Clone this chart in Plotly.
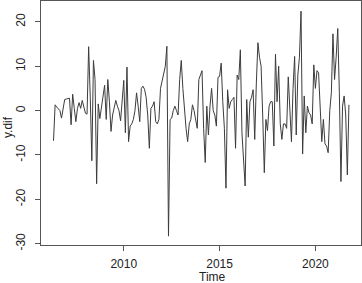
import numpy as np
import plotly.graph_objects as go

start_year = 2006
start_month = 5  # May 2006, monthly series
y_dif = [
    -6.8, 1.3, 0.8, 0.3, 0.0, -1.7, 0.5, 2.5, 2.6, 2.7,
    2.8, -3.2, 3.7, 0.5, -2.5, 0.5, 1.8, 0.5, 2.3, 0.8,
    -0.6, -0.8, 14.4, 3.0, -11.3, 11.3, 7.0, -16.5, 1.5, -1.8,
    1.0, 3.0, 5.7, -2.0, 7.0, 2.0, -4.7, -1.0, 0.5, 2.3,
    1.0, 0.0, -2.3, 3.0, 6.8, -5.0, 9.8, -7.0, -3.5, -3.0,
    -2.0, 0.0, 4.0, 1.0, -2.5, 5.0, 5.5, 4.8, 3.0, -1.0,
    -8.5, 0.5, 1.0, 2.0, -2.5, -3.0, -2.0, 5.0, 6.5, 8.0,
    10.0, 14.5, -28.3, -2.0, -1.7, 0.0, 1.0, 0.0, -1.0, 7.0,
    11.3, 5.0, 0.0, -4.0, -7.0, -3.0, -2.0, 1.3, 0.0, -2.0,
    -4.0, 7.0, 8.0, 9.0, -4.0, -11.7, 1.0, -5.5, 1.0, 5.0,
    0.0, -1.0, -3.5, 7.5, 7.7, 10.7, 2.0, -4.0, -17.5, 4.7,
    0.5, 2.0, 2.5, 3.0, -8.5, 8.0, 7.0, 13.7, -5.0, -10.0,
    -17.0, 2.5, -6.0, 2.0, 3.0, 4.7, -6.5, 6.0, 15.3, 12.0,
    10.0, -1.0, -14.0, -2.0, -4.5, 1.0, 2.0, 2.0, -8.0, 12.7,
    2.0, 10.0, -3.0, -6.5, -3.0, -3.0, -4.0, 7.6, -1.0, -7.0,
    5.0, 12.2, -5.5, 8.0, 12.0, 22.4, -9.8, 3.3, -5.0, 1.0,
    -0.5, -1.0, -3.0, 10.3, 5.0, 9.0, 8.5, 2.0, -7.0, -2.0,
    -7.5, -8.0, -9.5, 0.0, 4.0, 17.3, 7.0, 12.0, 18.5, 4.0,
    -16.0, 1.0, 3.3, -1.0, -14.5, 1.3,
]
x_ticks = [2010, 2015, 2020]
y_ticks = [-30, -20, -10, 0, 10, 20]
x_title = "Time"
y_title = "y.dif"

t = start_year + (start_month - 1) / 12 + np.arange(len(y_dif)) / 12

font = "Liberation Sans, Arial, sans-serif"
frame = "#555555"

fig = go.Figure(go.Scatter(x=t, y=y_dif, mode="lines",
                           line=dict(color="#3c3c3c", width=1)))

fig.update_layout(
    width=362, height=283,
    margin=dict(l=41, r=1, t=1, b=38, autoexpand=False),
    paper_bgcolor="white", plot_bgcolor="white",
    showlegend=False,
    font=dict(family=font, size=12, color="#222222"),
    annotations=[
        dict(text=x_title, xref="paper", yref="paper", x=(212 - 41) / 320, y=0,
             yshift=-32, xanchor="center", yanchor="middle", showarrow=False,
             font=dict(size=12)),
        dict(text=y_title, xref="paper", yref="paper", x=0, y=1 - (127.5 - 1) / 244,
             xshift=-33.5, xanchor="center", yanchor="middle", textangle=-90,
             showarrow=False, font=dict(size=12)),
    ],
)
fig.update_xaxes(
    range=[2005.68, 2022.38], tickvals=x_ticks, ticktext=[str(v) for v in x_ticks],
    showgrid=False, zeroline=False,
    showline=True, mirror=True, linecolor=frame, linewidth=1,
    ticks="outside", ticklen=5, tickcolor=frame, tickwidth=1,
    ticklabelstandoff=3,
)
fig.update_yaxes(
    range=[-30.3, 24.7], tickvals=y_ticks, ticktext=[str(v) for v in y_ticks],
    tickangle=-90,
    showgrid=False, zeroline=False,
    showline=True, mirror=True, linecolor=frame, linewidth=1,
    ticks="outside", ticklen=5, tickcolor=frame, tickwidth=1,
    ticklabelstandoff=5,
)

fig.write_html(
    "out.html",
    config={"displayModeBar": False},
    post_script="document.body.style.margin='0';document.body.style.overflow='hidden';",
)
